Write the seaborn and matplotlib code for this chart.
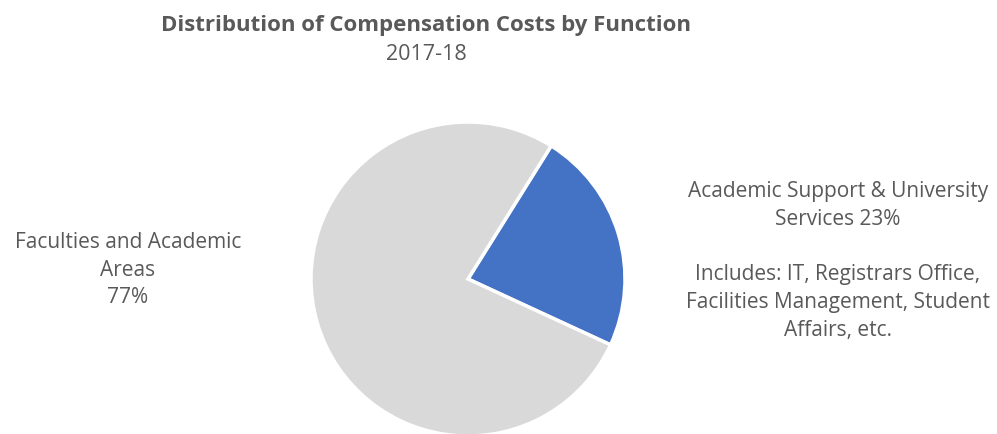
import matplotlib
matplotlib.use("Agg")
import matplotlib.pyplot as plt
import seaborn as sns

categories = ["Academic Support & University Services", "Faculties and Academic Areas"]
shares = [23, 77]
colors = ["#4472C4", "#D9D9D9"]
title = "Distribution of Compensation Costs by Function"
subtitle = "2017-18"
left_label = "Faculties and Academic\nAreas\n77%"
right_label = ("Academic Support & University\nServices 23%\n\n"
               "Includes: IT, Registrars Office,\nFacilities Management, Student\nAffairs, etc.")

sns.set_theme(style="white")
plt.rcParams['font.family'] = ['Open Sans', 'DejaVu Sans']
TXT = "#595959"

fig = plt.figure(figsize=(9.97, 4.35), dpi=100)
ax = fig.add_axes([0, 0, 1, 1])
ax.set_xlim(0, 997)
ax.set_ylim(0, 435)
ax.set_aspect('equal')
ax.axis('off')

ax.pie(shares, colors=colors, startangle=58, counterclock=False,
       center=(468, 155), radius=157,
       wedgeprops=dict(edgecolor="white", linewidth=2.5))
ax.set_xlim(0, 997)
ax.set_ylim(0, 435)

ax.text(426, 410, title, ha="center", va="center", fontsize=16,
        fontweight="bold", color=TXT)
ax.text(426, 380, subtitle, ha="center", va="center", fontsize=15.5, color=TXT)
ax.text(128, 165, left_label, ha="center", va="center", fontsize=15,
        color=TXT, linespacing=1.42)
ax.text(838, 174, right_label, ha="center", va="center", fontsize=15,
        color=TXT, linespacing=1.42)

fig.savefig("out.png", dpi=100, facecolor="white")
